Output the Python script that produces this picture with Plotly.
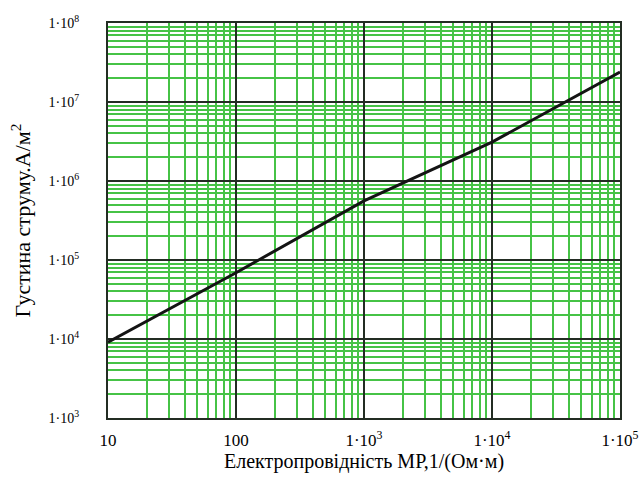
import plotly.graph_objects as go

conductivity = [10, 100, 1000, 10000, 100000]
current_density = [9.1e3, 6.9e4, 5.6e5, 3.1e6, 2.4e7]

x_tickvals = [10, 100, 1000, 10000, 100000]
x_ticktext = ["10", "100", "1·10<sup>3</sup>", "1·10<sup>4</sup>", "1·10<sup>5</sup>"]
y_tickvals = [1e3, 1e4, 1e5, 1e6, 1e7, 1e8]
y_ticktext = ["1·10<sup>3</sup>", "1·10<sup>4</sup>", "1·10<sup>5</sup>",
              "1·10<sup>6</sup>", "1·10<sup>7</sup>", "1·10<sup>8</sup>"]

serif = "Liberation Serif"
green = "rgb(70,195,70)"
major = "rgb(35,45,35)"

fig = go.Figure()
fig.add_trace(go.Scatter(
    x=conductivity, y=current_density, mode="lines",
    line=dict(color="rgb(20,20,20)", width=3), showlegend=False,
))

fig.update_layout(
    width=641, height=477,
    margin=dict(l=108, r=21, t=23, b=59, autoexpand=False),
    paper_bgcolor="white", plot_bgcolor="white",
    font=dict(family=serif, color="black"),
)
fig.update_xaxes(
    type="log", range=[1, 5], automargin=False,
    tickvals=x_tickvals, ticktext=x_ticktext,
    tickfont=dict(size=17, family=serif), ticks="outside", ticklen=6, tickcolor="rgba(0,0,0,0)",
    showgrid=True, gridcolor=major, gridwidth=1.5,
    minor=dict(dtick="D1", showgrid=True, gridcolor=green, gridwidth=1.5, ticks=""),
    showline=True, linecolor=major, linewidth=2, mirror=True,
    title=dict(text="Електропровідність МР,1/(Ом·м)", font=dict(size=20, family=serif), standoff=2),
    zeroline=False,
)
fig.update_yaxes(
    type="log", range=[3, 8], automargin=False,
    tickvals=y_tickvals, ticktext=y_ticktext,
    tickfont=dict(size=14, family=serif), ticks="outside", ticklen=24, tickcolor="rgba(0,0,0,0)",
    showgrid=True, gridcolor=major, gridwidth=1.5,
    minor=dict(dtick="D1", showgrid=True, gridcolor=green, gridwidth=1.5, ticks=""),
    showline=True, linecolor=major, linewidth=2, mirror=True,
    title=dict(text="Густина струму.А/м<sup>2</sup>", font=dict(size=22, family=serif), standoff=12),
    zeroline=False,
)

fig.write_html("out.html")
